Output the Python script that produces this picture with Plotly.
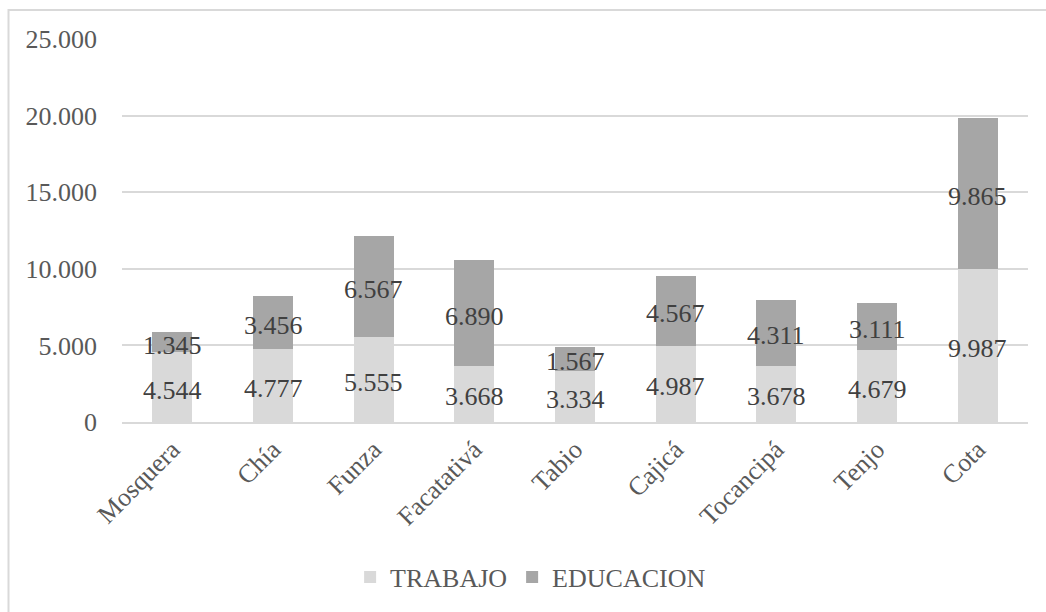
import plotly.graph_objects as go

municipios = ["Mosquera", "Chía", "Funza", "Facatativá", "Tabio", "Cajicá", "Tocancipá", "Tenjo", "Cota"]
trabajo = [4544, 4777, 5555, 3668, 3334, 4987, 3678, 4679, 9987]
educacion = [1345, 3456, 6567, 6890, 1567, 4567, 4311, 3111, 9865]
y_ticks = [0, 5000, 10000, 15000, 20000, 25000]
y_tick_labels = ["0", "5.000", "10.000", "15.000", "20.000", "25.000"]

FONT = "'Liberation Serif', 'Times New Roman', 'DejaVu Serif', serif"
C_TRABAJO = "#D9D9D9"
C_EDUCACION = "#A6A6A6"


def fmt(v):
    return f"{v:,}".replace(",", ".")


fig = go.Figure()
fig.add_trace(go.Bar(x=municipios, y=trabajo, name="TRABAJO",
                     marker=dict(color=C_TRABAJO, line=dict(width=0)),
                     hoverinfo="skip"))
fig.add_trace(go.Bar(x=municipios, y=educacion, name="EDUCACION",
                     marker=dict(color=C_EDUCACION, line=dict(width=0)),
                     hoverinfo="skip"))

# value labels centred in each stacked segment
for m, t, e in zip(municipios, trabajo, educacion):
    for yc, v in ((t / 2, t), (t + e / 2, e)):
        fig.add_annotation(x=m, y=yc, text=fmt(v), showarrow=False, yshift=-3,
                           font=dict(family=FONT, size=26, color="#404040"))

# outer chart frame
fig.add_shape(type="rect", xref="paper", yref="paper",
              x0=(8.5 - 122) / 906, x1=(1060 - 122) / 906,
              y0=(422 - 640) / 383, y1=(422 - 10) / 383,
              line=dict(color="#D9D9D9", width=2), fillcolor="rgba(0,0,0,0)",
              layer="below")

fig.update_layout(
    width=1046, height=612,
    margin=dict(l=122, r=18, t=39, b=190),
    barmode="stack", bargap=0.6,
    plot_bgcolor="white", paper_bgcolor="white",
    font=dict(family=FONT, size=26, color="#595959"),
    showlegend=True,
    legend=dict(orientation="h", x=0.451, xanchor="center", y=-0.405, yanchor="middle",
                font=dict(family=FONT, size=26, color="#595959"),
                traceorder="normal", itemsizing="constant"),
    xaxis=dict(tickangle=-45, showgrid=False, showline=True, linecolor="#D9D9D9",
               linewidth=2, ticks="", tickfont=dict(family=FONT, size=26, color="#595959")),
    yaxis=dict(range=[0, 25000], tickvals=y_ticks, ticktext=y_tick_labels,
               showgrid=True, gridcolor="#D9D9D9", gridwidth=2, zeroline=False,
               showline=False, ticks="", ticklabelstandoff=24,
               tickfont=dict(family=FONT, size=26, color="#595959")),
)

fig.write_html("out.html")
